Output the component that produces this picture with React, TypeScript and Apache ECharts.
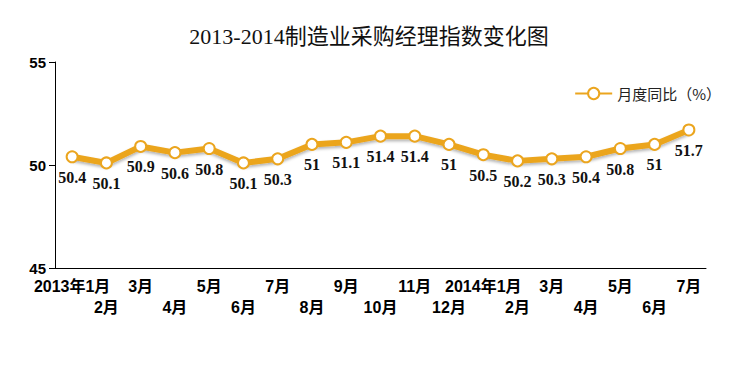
import React, { useEffect, useRef } from "react";
import * as echarts from "echarts";

const categories = [
  "2013年1月", "2月", "3月", "4月", "5月", "6月", "7月", "8月", "9月", "10月",
  "11月", "12月", "2014年1月", "2月", "3月", "4月", "5月", "6月", "7月",
];
const values = [50.4, 50.1, 50.9, 50.6, 50.8, 50.1, 50.3, 51, 51.1, 51.4, 51.4, 51, 50.5, 50.2, 50.3, 50.4, 50.8, 51, 51.7];
const seriesName = "月度同比（%）";
const titleText = "2013-2014制造业采购经理指数变化图";
const yMin = 45;
const yMax = 55;
const yInterval = 5;

const GOLD = "#EBA51E";

export default function App() {
  const ref = useRef<HTMLDivElement>(null);
  useEffect(() => {
    const chart = echarts.init(ref.current!, undefined, { renderer: "svg" });
    chart.setOption({
      animation: false,
      backgroundColor: "#fff",
      title: {
        text: titleText,
        left: "center",
        top: 20,
        textStyle: {
          fontFamily: "'Liberation Serif', 'Noto Sans CJK SC', serif",
          fontSize: 22,
          fontWeight: "normal",
          color: "#111",
        },
      },
      legend: {
        right: 12,
        top: 81,
        itemWidth: 37,
        itemHeight: 14,
        itemGap: 8,
        textStyle: {
          fontFamily: "'Noto Sans CJK SC', sans-serif",
          fontSize: 15,
          color: "#222",
        },
        data: [seriesName],
      },
      grid: { left: 55, right: 32, top: 62, bottom: 98, containLabel: false },
      xAxis: {
        type: "category",
        data: categories,
        boundaryGap: true,
        axisLine: { lineStyle: { color: "#000", width: 1 } },
        axisTick: { length: 5, lineStyle: { color: "#000" } },
        axisLabel: {
          interval: 0,
          margin: 8,
          color: "#000",
          fontFamily: "'Liberation Sans', 'Noto Sans CJK SC', sans-serif",
          fontWeight: "bold",
          fontSize: 16,
          lineHeight: 21,
          formatter: (v: string, i: number) => (i % 2 === 0 ? v : "\n" + v),
        },
      },
      yAxis: {
        type: "value",
        min: yMin,
        max: yMax,
        interval: yInterval,
        splitLine: { show: false },
        axisLine: { show: true, lineStyle: { color: "#000", width: 1 } },
        axisTick: { show: true, length: 6, lineStyle: { color: "#000" } },
        axisLabel: {
          color: "#000",
          margin: 9,
          fontFamily: "'Liberation Sans', sans-serif",
          fontWeight: "bold",
          fontSize: 15,
        },
      },
      series: [
        {
          name: seriesName,
          type: "line",
          data: values,
          symbol: "circle",
          symbolSize: 11,
          lineStyle: {
            color: GOLD,
            width: 6,
            shadowColor: "rgba(0,0,0,0.3)",
            shadowBlur: 3,
            shadowOffsetY: 2,
          },
          itemStyle: { color: "#fff", borderColor: GOLD, borderWidth: 2 },
          label: {
            show: true,
            position: "bottom",
            distance: 6,
            color: "#111",
            fontFamily: "'Liberation Serif', serif",
            fontWeight: "bold",
            fontSize: 16,
          },
        },
      ],
    });
    return () => chart.dispose();
  }, []);
  return <div ref={ref} style={{ width: 738, height: 366, margin: -8 }} />;
}
